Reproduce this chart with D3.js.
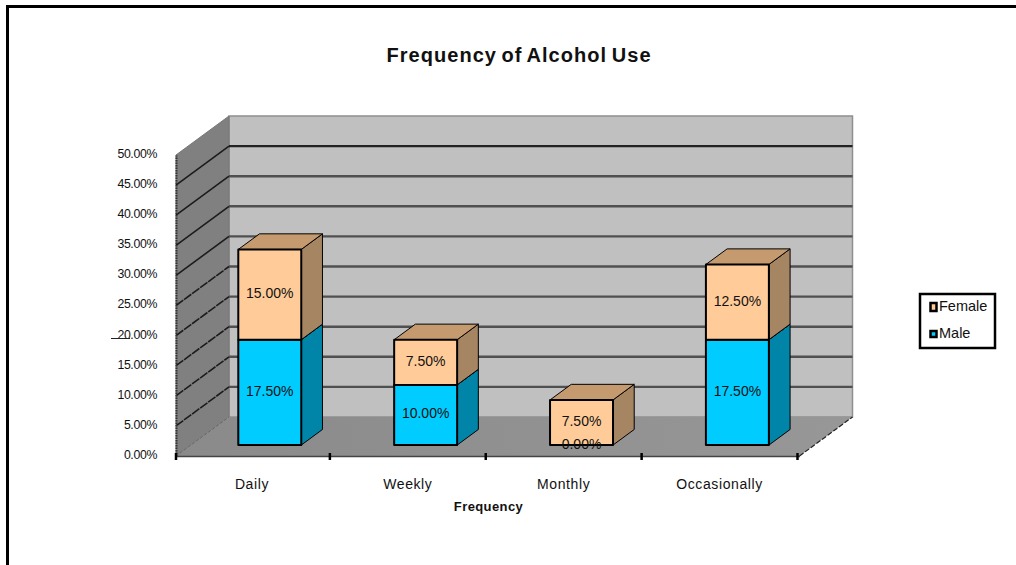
<!DOCTYPE html>
<html><head><meta charset="utf-8">
<script src="https://cdnjs.cloudflare.com/ajax/libs/d3/7.8.5/d3.min.js"></script>
<style>
html,body{margin:0;padding:0;background:#fff;overflow:hidden}
text{font-family:"Liberation Sans",Arial,sans-serif;fill:#111}
</style></head><body><svg id="c" width="1016" height="565"></svg>
<script>
const categories=["Daily","Weekly","Monthly","Occasionally"];
const male=[17.5,10,0,17.5];
const female=[15,7.5,7.5,12.5];
const yTicks=[0,5,10,15,20,25,30,35,40,45,50];
const titleText="Frequency of Alcohol Use";
const xTitle="Frequency";
const legendNames=["Female","Male"];

const svg=d3.select("#c");
const x=d3.scaleBand().domain(categories).range([176,799.5]);
const y=d3.scaleLinear().domain([0,50]).range([456,155]);
const depth={dx:53,dy:-39};
const pt=(px,py,d=0)=>[px+depth.dx*d,py+depth.dy*d];
const path=p=>"M"+p.map(q=>q.join(",")).join("L")+"Z";
const x0=x.range()[0],x1=x.range()[1],y0=y(0),yT=y(50);

// frame
svg.append("path").attr("d",`M7.5,565V6.5H1016`).attr("fill","none").attr("stroke","#000").attr("stroke-width",3);

// walls
svg.append("path").attr("d",path([pt(x0,yT,1),pt(x1,yT,1),pt(x1,y0,1),pt(x0,y0,1)])).attr("fill","#c0c0c0").attr("stroke","#8f8f8f").attr("stroke-width",1.5);
svg.append("path").attr("d",path([pt(x0,yT),pt(x0,yT,1),pt(x0,y0,1),pt(x0,y0)])).attr("fill","#808080").attr("stroke","#777").attr("stroke-width",1);
const fl=svg.append("defs").append("linearGradient").attr("id","fl").attr("x1",0).attr("x2",1).attr("y1",0).attr("y2",0);
fl.append("stop").attr("offset",0).attr("stop-color","#8a8a8a");
fl.append("stop").attr("offset",1).attr("stop-color","#979797");
svg.append("path").attr("d",path([pt(x0,y0),pt(x0,y0,1),pt(x1,y0,1),pt(x1,y0)])).attr("fill","url(#fl)");

// gridlines
yTicks.filter(v=>v>0&&v<50).forEach(v=>{
  const a=pt(x0,y(v)),b=pt(x0,y(v),1),c=pt(x1,y(v),1);
  svg.append("path").attr("d",`M${a}L${b}`).attr("fill","none").attr("stroke","#1c1c1c").attr("stroke-width",1.6).attr("stroke-dasharray",v<30?"9 1":null);
  svg.append("path").attr("d",`M${b}L${c}`).attr("fill","none").attr("stroke",v==45?"#111":"#444").attr("stroke-width",2.4).attr("stroke-opacity",.9);
});
// floor edges
svg.append("path").attr("d",`M${pt(x0,y0)}L${pt(x0,y0,1)}`).attr("stroke","#666").attr("stroke-dasharray","3 2").attr("fill","none");
svg.append("path").attr("d",`M${pt(x1,y0)}L${pt(x1,y0,1)}`).attr("stroke","#222").attr("stroke-width",1.2).attr("stroke-dasharray","5 2").attr("fill","none");

// axes
const yAxis=d3.axisLeft(y).tickValues(yTicks).tickFormat(v=>v.toFixed(2)+"%").tickSize(0).tickPadding(19);
const ga=svg.append("g").attr("transform",`translate(${x0},-1.5)`).call(yAxis);
ga.select(".domain").attr("transform","translate(0,1.5)").attr("stroke","#333").attr("stroke-width",2).attr("stroke-dasharray","1.5 1");
ga.selectAll("text").attr("font-size",12.3).attr("letter-spacing",-0.35).style("font-family",'"Liberation Sans",Arial,sans-serif').attr("fill","#111");
const xAxis=d3.axisBottom(x).tickSize(0).tickPadding(21);
const gx=svg.append("g").attr("transform",`translate(-2,${y0})`).call(xAxis);
gx.select(".domain").attr("transform","translate(2,0)").attr("stroke","#444").attr("stroke-width",1.5);
gx.selectAll("text").attr("y",23).attr("font-size",14).attr("letter-spacing",0.6).style("font-family",'"Liberation Sans",Arial,sans-serif').attr("fill","#111");
[...categories.map(c=>x(c)),x1].forEach(px=>{
  const t=Math.max(px-2,x0);
  svg.append("line").attr("x1",t).attr("x2",t).attr("y1",y0-3).attr("y2",y0+4).attr("stroke","#000").attr("stroke-width",2.5);
});
svg.append("line").attr("x1",111).attr("x2",130).attr("y1",338.5).attr("y2",338.5).attr("stroke","#222");

// bars
const barW=x.bandwidth()*0.404, dNear=0.28, dFar=0.68, nudge=1;
const series=[
 {vals:male,base:()=>0,front:"#00ccff",side:"#0085a8",top:"#0098bf"},
 {vals:female,base:i=>male[i],front:"#ffcc99",side:"#a68562",top:"#c49a6e"}
];
series.forEach(s=>{
  categories.forEach((c,i)=>{
    const v=s.vals[i],b=s.base(i);
    if(v<=0) return;
    const cx=x(c)+x.bandwidth()/2+nudge;
    const L=cx-barW/2,R=cx+barW/2;
    const g=svg.append("g").attr("stroke","#000").attr("stroke-linejoin","round");
    const yb=y(b),yt=y(b+v);
    g.append("path").attr("d",path([pt(R,yb,dNear),pt(R,yb,dFar),pt(R,yt,dFar),pt(R,yt,dNear)])).attr("fill",s.side).attr("stroke-width",1);
    g.append("path").attr("d",path([pt(L,yt,dNear),pt(L,yt,dFar),pt(R,yt,dFar),pt(R,yt,dNear)])).attr("fill",s.top).attr("stroke-width",1);
    g.append("path").attr("d",path([pt(L,yb,dNear),pt(L,yt,dNear),pt(R,yt,dNear),pt(R,yb,dNear)])).attr("fill",s.front).attr("stroke-width",2);
  });
});
// data labels
series.forEach(s=>{
  categories.forEach((c,i)=>{
    const v=s.vals[i],b=s.base(i);
    const cx=x(c)+x.bandwidth()/2+nudge;
    const p=pt(cx,y(b+v/2),dNear);
    svg.append("text").attr("x",p[0]).attr("y",p[1]+3.5).attr("text-anchor","middle").attr("font-size",14).text(v.toFixed(2)+"%");
  });
});

// titles
svg.append("text").attr("x",519).attr("y",62).attr("text-anchor","middle").attr("font-size",20).attr("font-weight","bold").attr("letter-spacing",1.05).attr("word-spacing",-2).text(titleText);
svg.append("text").attr("x",488.5).attr("y",511).attr("text-anchor","middle").attr("font-size",13).attr("font-weight","bold").attr("letter-spacing",0.4).text(xTitle);

// legend
svg.append("rect").attr("x",920).attr("y",294).attr("width",75).attr("height",54).attr("fill","#fff").attr("stroke","#000").attr("stroke-width",2.5);
legendNames.forEach((n,i)=>{
  const ly=[303,331][i],col=[series[1].front,series[0].front][i];
  svg.append("rect").attr("x",930.5).attr("y",ly).attr("width",6).attr("height",[8,6][i]).attr("fill",col).attr("stroke","#000").attr("stroke-width",2.5);
  svg.append("text").attr("x",939).attr("y",[311,338][i]).attr("font-size",14.5).text(n);
});
</script></body></html>
